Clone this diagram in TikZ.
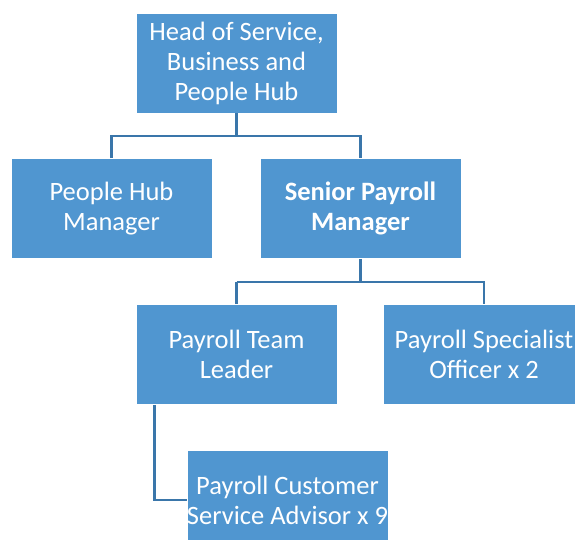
\documentclass[tikz,border=0pt]{standalone}
\usepackage{fontspec}
\setmainfont{Carlito}
\definecolor{boxblue}{RGB}{80,150,208}
\definecolor{lineblue}{RGB}{58,118,170}
\begin{document}
\begin{tikzpicture}[x=1pt,y=-1pt,
  orgbox/.style={fill=boxblue, draw=white, line width=0.8pt, minimum width=201pt, minimum height=100pt,
    text=white, align=center, inner sep=0pt,
    font=\fontsize{26.5}{30}\selectfont},
  link/.style={draw=lineblue, line width=2.4pt}]
\useasboundingbox (0,0) rectangle (575,539);
\begin{scope}
\clip (0,0) rectangle (575,539);
\node[orgbox] (head) at (236.5,63) {Head of Service,\\Business and\\People Hub};
\node[orgbox] (hub) at (111.5,208.5) {People Hub\\Manager};
\node[orgbox] (spm) at (360.5,208.5) {\textbf{Senior Payroll}\\\textbf{Manager}};
\node[orgbox] (ptl) at (236.5,354.5) {Payroll Team\\Leader};
\node[orgbox] (pso) at (484,354.5) {Payroll Specialist\\Officer x 2};
\node[orgbox] (pcs) at (287.5,500) {Payroll Customer\\Service Advisor x 9};

\coordinate (j1) at (236.5,136);
\coordinate (j2) at (360.5,282);
\draw[link] (head.south) -- (j1);
\draw[link] (hub.north) |- (j1) -| (spm.north);
\draw[link] (spm.south) -- (j2);
\draw[link] (ptl.north |- j2) -- (j2) -| (pso.north);
\draw[link] (ptl.north) -- (ptl.north |- j2);
\draw[link] ([xshift=-82pt]ptl.south) |- (pcs.west);
\end{scope}
\end{tikzpicture}
\end{document}
